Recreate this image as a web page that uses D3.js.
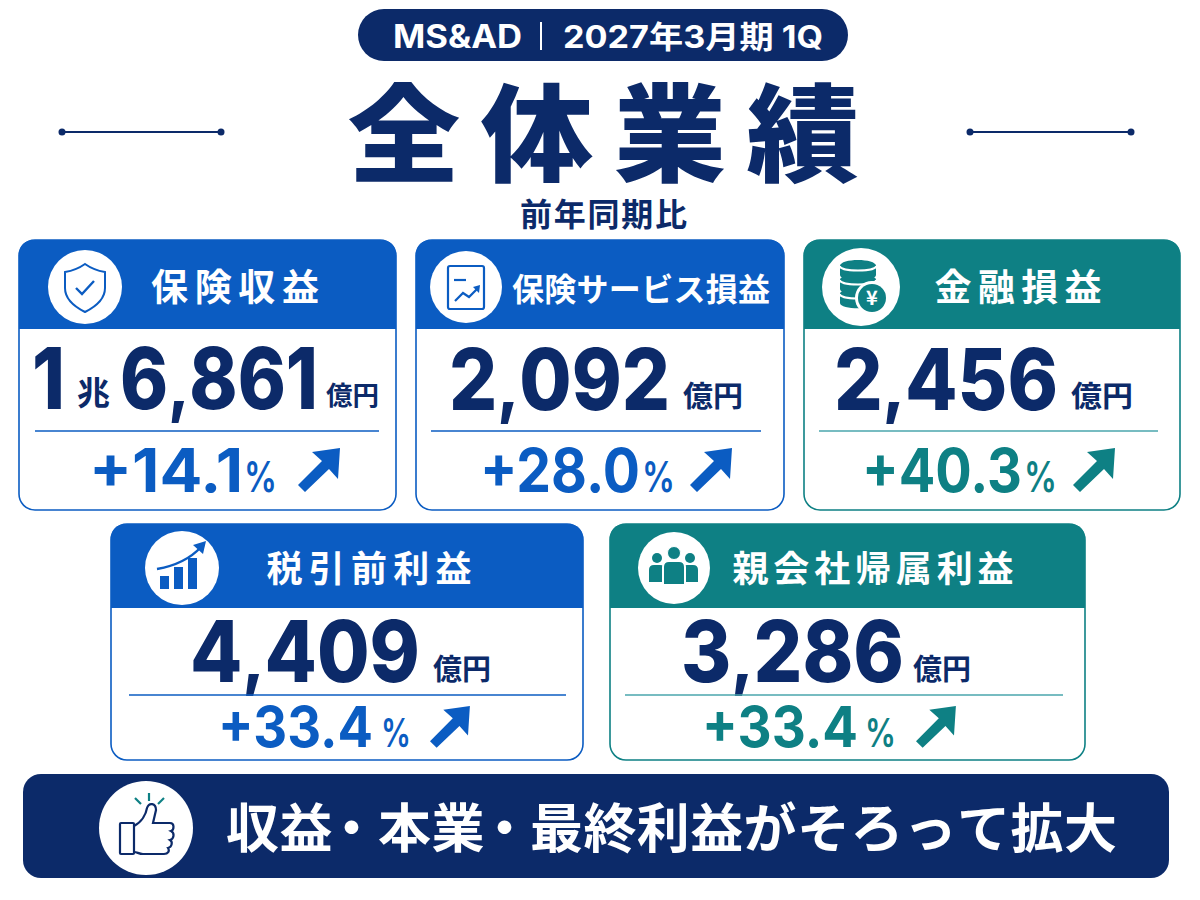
<!DOCTYPE html>
<html lang="ja">
<head>
<meta charset="utf-8">
<title>全体業績</title>
<style>
  html, body { margin: 0; background: #fff; }
  svg { display: block; }
  text { font-family: "Noto Sans CJK JP", sans-serif; }
  text.num { font-family: Inter, "Noto Sans CJK JP", sans-serif; }
</style>
</head>
<body>
<svg id="chart" width="1200" height="900"></svg>
<script src="https://cdn.jsdelivr.net/npm/d3@7"></script>
<script>
// values
const metricNames = ['保険収益', '保険サービス損益', '金融損益', '税引前利益', '親会社帰属利益'];
const metricAmounts = [16861, 2092, 2456, 4409, 3286]; // 億円
const metricChanges = [14.1, 28.0, 40.3, 33.4, 33.4]; // %
const metricTones = ['blue', 'blue', 'teal', 'blue', 'teal'];
const metricIcons = ['shield', 'report', 'coins', 'bars', 'people'];
const pillBrand = 'MS&AD';
const pillPeriod = '2027年3月期 1Q';
const titleChars = ['全', '体', '業', '績'];
const subtitle = '前年同期比';
const unitLabel = '億円';
const bannerText = '収益・本業・最終利益がそろって拡大';

const navy = '#0c2a69', blue = '#0b5cc2', teal = '#0e8084', tealRule = '#4aa6ad';
const toneColor = { blue, teal };

// card geometry, one row per metric
const cardBox = [
  { x: 19, y: 240, w: 377, h: 270, head: 89 },
  { x: 416, y: 240, w: 368, h: 270, head: 89 },
  { x: 804, y: 240, w: 376, h: 270, head: 89 },
  { x: 111, y: 524, w: 472, h: 236, head: 84 },
  { x: 610, y: 524, w: 475, h: 236, head: 84 }
];
const cardIcon = [
  { cx: 85, cy: 287, r: 37 }, { cx: 466, cy: 287, r: 36 }, { cx: 861, cy: 287, r: 39 },
  { cx: 182, cy: 568, r: 37 }, { cx: 674, cy: 568, r: 36 }
];
const cardName = [
  { x: 235, size: 37, len: 168 }, { x: 641, size: 32, len: 258 }, { x: 1018, size: 37, len: 167 },
  { x: 369, size: 36, len: 205 }, { x: 873, size: 36, len: 281 }
];
const cardValue = [
  { x0: 120, x1: 318, unit: 326, unitLen: 53, base: 409, unitBase: 405 },
  { x0: 449, x1: 670, unit: 683, unitLen: 60, base: 410, unitBase: 407 },
  { x0: 834, x1: 1058, unit: 1071, unitLen: 62, base: 410, unitBase: 407 },
  { x0: 190, x1: 420, unit: 433, unitLen: 58, base: 682, unitBase: 680 },
  { x0: 681, x1: 904, unit: 913, unitLen: 58, base: 682, unitBase: 680 }
];
const cardRule = [
  { x1: 35, x2: 379, y: 431 }, { x1: 431, x2: 761, y: 431 }, { x1: 819, x2: 1158, y: 431 },
  { x1: 129, x2: 566, y: 695 }, { x1: 625, x2: 1063, y: 695 }
];
const cardChange = [
  { x0: 89, x1: 243, pct: 244, pctLen: 33, base: 492, size: 60, pctSize: 43, ax: 298, ay: 448 },
  { x0: 480, x1: 640, pct: 642, pctLen: 33, base: 492, size: 60, pctSize: 43, ax: 690, ay: 448 },
  { x0: 862, x1: 1022, pct: 1024, pctLen: 33, base: 492, size: 60, pctSize: 43, ax: 1073, ay: 448 },
  { x0: 218, x1: 373, pct: 381, pctLen: 30, base: 747, size: 57, pctSize: 39, ax: 430, ay: 706 },
  { x0: 702, x1: 858, pct: 865, pctLen: 31, base: 747, size: 57, pctSize: 39, ax: 916, ay: 706 }
];
// start of each run of the banner line: 収益 / ・ / 本業 / ・ / the rest
const bannerRuns = [[0, 226], [2, 325], [3, 378], [5, 478], [6, 530]];

const svg = d3.select('#chart');
const fmt = d3.format(',');

function put(parent, str, x, y, size, weight, fill, anchor, len) {
  const t = parent.append('text')
    .attr('x', x).attr('y', y)
    .attr('font-size', size).attr('font-weight', weight)
    .attr('fill', fill).attr('text-anchor', anchor || 'start')
    .text(str);
  if (len) t.attr('textLength', len).attr('lengthAdjust', 'spacing');
  return t;
}

// same as put, but squeezes the glyphs too so that big numbers fit their width
function fit(parent, str, x0, x1, y, size, weight, fill) {
  return put(parent, str, x0, y, size, weight, fill)
    .attr('textLength', x1 - x0).attr('lengthAdjust', 'spacingAndGlyphs');
}

// Header pill
svg.append('rect').attr('x', 358).attr('y', 9).attr('width', 490).attr('height', 52).attr('rx', 26).attr('fill', navy);
fit(svg, pillBrand, 393, 522, 48, 32, 700, '#fff').attr('class', 'num');
svg.append('line').attr('x1', 541).attr('x2', 541).attr('y1', 22).attr('y2', 50).attr('stroke', '#fff').attr('stroke-width', 2);
fit(svg, pillPeriod, 563, 823, 48, 31, 700, '#fff').attr('class', 'num');

// Title, the glyphs in the picture are a little wider than tall
const titleX = d3.scalePoint().domain(titleChars).range([404, 803]);
titleChars.forEach(c => {
  put(svg, c, 0, 0, 106, 900, navy, 'middle')
    .attr('transform', `translate(${titleX(c)},173) scale(1.06,1)`);
});
put(svg, subtitle, 520, 226, 32, 700, navy, 'start', 167);

// Side dashes
[[62, 221], [970, 1131]].forEach(([a, b]) => {
  svg.append('line').attr('x1', a).attr('x2', b).attr('y1', 132).attr('y2', 132).attr('stroke', navy).attr('stroke-width', 2);
  [a, b].forEach(x => svg.append('circle').attr('cx', x).attr('cy', 132).attr('r', 3.5).attr('fill', navy));
});

// Icons, drawn around 0,0 inside the white disc
const icons = {
  shield(g, c) {
    g.append('path')
      .attr('d', 'M0,-23 C7,-18 14,-16 20,-15 V1 C20,12 10,20 0,25 C-10,20 -20,12 -20,1 V-15 C-14,-16 -7,-18 0,-23 Z')
      .attr('fill', 'none').attr('stroke', c).attr('stroke-width', 2);
    g.append('path').attr('d', 'M-9,1 L-3,7 L9,-6').attr('fill', 'none').attr('stroke', c).attr('stroke-width', 2.4);
  },
  report(g, c) {
    g.append('rect').attr('x', -18).attr('y', -21).attr('width', 36).attr('height', 43).attr('rx', 2)
      .attr('fill', 'none').attr('stroke', c).attr('stroke-width', 2.2);
    g.append('line').attr('x1', -12).attr('x2', 0).attr('y1', -7).attr('y2', -7).attr('stroke', c).attr('stroke-width', 2.2);
    g.append('path').attr('d', 'M-11,14 L-3,6 L3,10 L12,1').attr('fill', 'none').attr('stroke', c).attr('stroke-width', 2.2);
    g.append('path').attr('d', 'M7,0 L14,-2 L13,6 Z').attr('fill', c);
  },
  coins(g, c) {
    [-21, -7, 7].forEach(y => {
      g.append('path')
        .attr('d', `M-21,${y} C-21,${y - 8} 15,${y - 8} 15,${y} V${y + 9} C15,${y + 16} -21,${y + 16} -21,${y + 9} Z`)
        .attr('fill', c);
      g.append('path')
        .attr('d', `M-21,${y} C-21,${y + 6} 15,${y + 6} 15,${y}`)
        .attr('fill', 'none').attr('stroke', '#fff').attr('stroke-width', 2);
    });
    g.append('circle').attr('cx', 11).attr('cy', 11).attr('r', 17).attr('fill', '#fff');
    g.append('circle').attr('cx', 11).attr('cy', 11).attr('r', 14).attr('fill', c);
    put(g, '¥', 11, 18, 20, 700, '#fff', 'middle');
  },
  bars(g, c) {
    [[-22, 8, 13], [-8, -1, 22], [6, -10, 31]].forEach(([x, y, h]) => {
      g.append('rect').attr('x', x).attr('y', y + 0).attr('width', 9).attr('height', h).attr('fill', c);
    });
    g.append('path').attr('d', 'M-25,1 C-8,-2 8,-9 19,-21').attr('fill', 'none').attr('stroke', c).attr('stroke-width', 2.4);
    g.append('path').attr('d', 'M11,-23 L24,-27 L21,-14 Z').attr('fill', c);
  },
  people(g, c) {
    [-17, 16].forEach(x => {
      g.append('circle').attr('cx', x).attr('cy', -10).attr('r', 5).attr('fill', c);
      g.append('path').attr('d', `M${x - 8},14 V2 Q${x - 8},-3 ${x - 3},-3 H${x + 3} Q${x + 8},-3 ${x + 8},2 V14 Z`).attr('fill', c);
    });
    g.append('circle').attr('cx', 0).attr('cy', -15).attr('r', 6.5).attr('fill', c).attr('stroke', '#fff').attr('stroke-width', 1);
    g.append('path').attr('d', 'M-11,17 V-1 Q-11,-7 -5,-7 H5 Q11,-7 11,-1 V17 Z').attr('fill', c).attr('stroke', '#fff').attr('stroke-width', 2);
  }
};

// Up-right arrow with its top-left bounding corner at ax,ay
function arrow(g, ax, ay, c, s) {
  const tip = [ax + 42 * s, ay];
  g.append('path')
    .attr('d', `M${tip[0]},${tip[1]} L${tip[0] - 2 * s},${ay + 31 * s} L${tip[0] - 11 * s},${ay + 21 * s} L${ax + 7 * s},${ay + 44 * s} L${ax},${ay + 37 * s} L${ax + 24 * s},${ay + 13 * s} L${ax + 14 * s},${ay + 4 * s} Z`)
    .attr('fill', c);
}

// Metric cards
metricNames.forEach((name, i) => {
  const b = cardBox[i], c = toneColor[metricTones[i]];
  const g = svg.append('g').attr('class', 'card');

  g.append('rect').attr('x', b.x).attr('y', b.y).attr('width', b.w).attr('height', b.h).attr('rx', 16)
    .attr('fill', '#fff').attr('stroke', c).attr('stroke-width', 1.6);
  g.append('path')
    .attr('d', `M${b.x},${b.y + b.head} V${b.y + 16} Q${b.x},${b.y} ${b.x + 16},${b.y} H${b.x + b.w - 16} Q${b.x + b.w},${b.y} ${b.x + b.w},${b.y + 16} V${b.y + b.head} Z`)
    .attr('fill', c);

  const ic = cardIcon[i];
  g.append('circle').attr('cx', ic.cx).attr('cy', ic.cy).attr('r', ic.r).attr('fill', '#fff');
  icons[metricIcons[i]](g.append('g').attr('transform', `translate(${ic.cx},${ic.cy})`), c);

  const n = cardName[i];
  put(g, name, n.x - n.len / 2, b.y + (i < 3 ? 61 : 58), n.size, 700, '#fff', 'start', n.len);

  // Amount: values of 1兆 and over get their own small unit
  const v = cardValue[i], amount = metricAmounts[i];
  if (amount >= 10000) {
    fit(g, String(Math.floor(amount / 10000)), 32, 65, v.base, 85, 800, navy).attr('class', 'num');
    put(g, '兆', 77, v.unitBase, 33, 700, navy);
  }
  const [head, tail] = fmt(amount % 10000).split(',');
  const num = fit(g, '', v.x0, v.x1, v.base, 85, 800, navy).attr('class', 'num');
  num.append('tspan').text(head);
  num.append('tspan').attr('font-size', 70).text(',');  // shorter comma, clears the rule below
  num.append('tspan').text(tail);
  fit(g, unitLabel, v.unit, v.unit + v.unitLen, v.unitBase, i === 0 ? 26 : 29, 700, navy);

  const r = cardRule[i];
  g.append('line').attr('x1', r.x1).attr('x2', r.x2).attr('y1', r.y).attr('y2', r.y)
    .attr('stroke', metricTones[i] === 'teal' ? tealRule : c).attr('stroke-width', 1.4);

  const p = cardChange[i];
  fit(g, '+' + metricChanges[i].toFixed(1), p.x0, p.x1, p.base, p.size, 700, c).attr('class', 'num');
  fit(g, '%', p.pct, p.pct + p.pctLen, p.base, p.pctSize, 600, c).attr('class', 'num');
  arrow(g, p.ax, p.ay, c, i < 3 ? 1 : 0.95);
});

// Bottom banner
svg.append('rect').attr('x', 23).attr('y', 774).attr('width', 1146).attr('height', 104).attr('rx', 18).attr('fill', navy);
svg.append('circle').attr('cx', 146).attr('cy', 828).attr('r', 47).attr('fill', '#fff');
const thumb = svg.append('g').attr('transform', 'translate(146,828)');
thumb.append('rect').attr('x', -26).attr('y', -5).attr('width', 14).attr('height', 31).attr('rx', 1)
  .attr('fill', 'none').attr('stroke', navy).attr('stroke-width', 2.2);
thumb.append('path')
  .attr('d', 'M-12,-2 C-4,-6 0,-14 1,-20 C3,-26 10,-25 10,-18 L7,-5 H24 C29,-5 28,2 25,3 C29,5 28,11 24,12 C27,14 26,19 22,20 C24,23 22,26 18,26 H-3 C-7,26 -9,24 -12,24')
  .attr('fill', 'none').attr('stroke', navy).attr('stroke-width', 2.2);
[[-11, -30, -5, -24], [3, -35, 3, -27], [12, -24, 18, -30]].forEach(([x1, y1, x2, y2]) => {
  thumb.append('line').attr('x1', x1).attr('y1', y1).attr('x2', x2).attr('y2', y2).attr('stroke', teal).attr('stroke-width', 2.2);
});
const bannerPitch = 53.4;
const bannerXs = Array.from(bannerText, (ch, k) => {
  const [from, x] = bannerRuns.filter(run => run[0] <= k).pop();
  return x + (k - from) * bannerPitch;
});
put(svg, bannerText, 0, 848, 53, 700, '#fff').attr('x', bannerXs.join(' '));
</script>
</body>
</html>
